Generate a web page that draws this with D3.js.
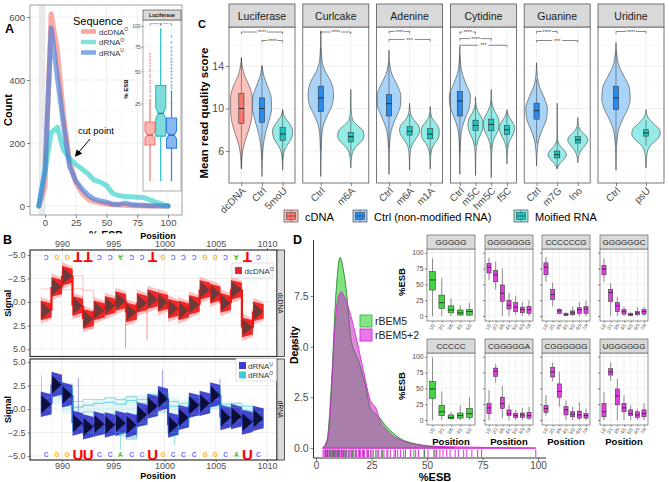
<!DOCTYPE html>
<html>
<head>
<meta charset="utf-8">
<script src="https://cdn.jsdelivr.net/npm/d3@7/dist/d3.min.js"></script>
<style>
html,body{margin:0;padding:0;background:#fff;}
svg{display:block;}
text{font-family:"Liberation Sans",Arial,Helvetica,sans-serif;}
</style>
</head>
<body>
<svg id="fig" width="669" height="482" xmlns="http://www.w3.org/2000/svg"></svg>
<script>
// ================= DATA =================
// ---- Panel A: %ESB distribution ----
const esbBins    = [-5,0,5,10,15,20,25,30,35,40,45,50,55,60,65,70,75,80,85,90,95,100];
const countDcDNA = [0,60,610,495,290,140,75,42,22,14,10,6,4,3,2,1,1,0,0,0,0,0];
const countDrnaO = [0,110,232,250,178,150,132,118,102,82,76,65,40,33,30,29,28,27,20,12,6,0];
const countDrnaU = [0,115,565,410,260,125,80,55,35,22,16,12,6,5,9,5,3,2,1,1,0,0];
const seqLegend  = ["dcDNA","dRNA","dRNA"];
const seqSup     = ["O","O","U"];
const aXTicks = [0,25,50,75,100];
const aYTicks = [0,200,400,600];
// inset (Luciferase, %ESB, sqrt scale)
const insetGroups  = ["dcDNA","dRNAO","dRNAU"];
const insetWhiskLo = [0,0,0];
const insetQ1      = [5.4,8.4,4.5];
const insetMed     = [8.8,19,8.8];
const insetQ3      = [14.5,38,16.5];
const insetWhiskHi = [28,97,34];
const insetNotchLo = [7.6,16,7.4];
const insetNotchHi = [10.2,22.5,10.3];
const insetOutDcDNA = [30,33,35,37,40,42,45,47,50,52,55,58,61,64,67];
const insetOutDrnaU = [36,38,41,44,47,50,53,56,59,62,66,70,74,80,87];
const insetTicks = [25,50,75,100];

// ---- Panel B: squiggle signal ----
const bPos = [988.45,989.5,990.5,991.55,992.55,993.65,994.7,995.7,996.8,997.8,998.85,999.85,1000.85,1001.85,1002.9,1003.95,1004.95,1005.95,1007.0,1008.1,1009.15];
const dnaSeq = ["C","G","G","T","T","C","C","A","C","C","T","G","C","C","C","G","G","C","A","T","C"];
const rnaSeq = ["C","G","G","U","U","C","C","A","C","C","U","G","C","C","C","G","G","C","A","U","C"];
const dcdnaLevel  = [0.9,-1.6,-2.8,0.4,1.8,0.9,0.4,-0.1,1.1,0.1,-0.3,0.0,0.7,0.9,0.3,-1.3,-0.9,0.1,-1.3,2.7,1.0];
const dcdnaTrace1 = [-1.4,-1.3,-1.3,-1.4,-1.2,0.6,0.3,-0.2,1.0,0.2,-0.5,0.1,0.8,0.8,0.2,-1.4,-0.8,0.1,-1.2,2.5,1.2];
const dcdnaTrace2 = [1.2,-1.2,-3.3,-2.8,2.2,1.2,0.6,0.0,1.3,0.3,-0.2,0.2,0.5,1.0,0.4,-1.2,-1.0,0.2,-1.4,2.9,0.9];
const dcdnaTrace3 = [0.6,-1.9,-2.5,1.5,2.8,1.5,0.9,0.3,0.9,-0.1,-0.6,-0.3,1.0,0.6,0.5,-1.6,-0.6,-0.1,-1.6,2.2,1.3];
const dcdnaTrace4 = [1.5,-2.2,-3.4,0.9,1.2,0.4,0.0,-0.6,1.6,0.6,0.2,0.5,0.3,1.4,0.8,-0.8,-1.4,0.6,-0.9,3.1,0.6];
const dcdnaSpikePos = [996.2,998.3];
const dcdnaSpikeEnd = [4.9,4.0];
const drnaULevel  = [0.5,2.6,1.5,-1.5,-1.9,-1.6,-1.7,-1.5,-1.7,-0.6,0.3,1.1,-1.7,-0.9,0.4,0.6,1.5,-0.9,-0.8,-1.4,-1.0];
const drnaOLow    = [-0.8,0.5,-0.5,-2.5,-3.0,-2.8,-2.8,-3.0,-3.3,-1.8,-0.8,-0.5,-2.8,-2.0,-0.8,-0.5,0.0,-1.8,-1.8,-2.0,-1.8];
const drnaOHigh   = [1.8,3.3,2.8,0.5,0.8,1.0,1.2,1.2,1.5,1.5,1.8,2.0,1.2,1.0,1.5,1.5,2.2,0.8,0.8,0.5,0.2];
const drnaOTrace1 = [0.5,2.5,1.5,0.8,1.0,1.0,1.2,1.0,1.3,1.0,1.2,1.5,0.8,0.6,1.0,1.0,1.8,0.5,0.6,0.3,0.0];
const drnaOTrace2 = [0.0,2.0,1.0,-2.0,-2.5,-2.3,-2.2,-2.5,-3.0,-1.5,-0.5,0.5,-2.5,-1.6,-0.5,0.0,1.0,-1.5,-1.2,-1.8,-1.5];
const drnaOTrace3 = [0.8,2.8,1.8,-0.5,-0.3,-0.5,-0.5,-0.8,-2.0,-0.3,0.5,1.0,-1.5,-0.5,0.5,0.8,1.2,-0.5,-0.5,-1.0,-0.8];
const drnaOTrace4 = [0.2,2.3,1.2,-1.0,-1.5,-1.3,-1.2,-1.8,-2.6,-1.0,0.0,0.2,-2.0,-1.2,0.0,0.3,0.8,-1.0,-0.9,-1.3,-1.2];
const drnaOTrace5 = [1.2,3.0,2.2,0.2,0.4,0.6,0.7,0.5,0.9,0.6,1.5,1.7,0.3,0.2,1.3,1.2,2.0,0.2,0.2,-0.2,-0.4];
const drnaOTrace6 = [-0.4,1.4,0.3,-2.3,-2.8,-2.6,-2.5,-2.8,-3.2,-1.7,-0.7,-0.3,-2.7,-1.9,-0.7,-0.4,0.3,-1.7,-1.6,-1.9,-1.7];
const drnaSpikePos = [988.0,991.6,995.7,999.8,1001.0,1005.4];
const drnaSpikeEnd = [3.6,3.3,-4.3,4.2,-3.8,3.2];
const bTicks = [990,995,1000,1005,1010];
const signalTicks = [-5,-2.5,0,2.5,5];

// ---- Panel C: mean read quality ----
const cFacets = ["Luciferase","Curlcake","Adenine","Cytidine","Guanine","Uridine"];
const cCats  = [["dcDNA","Ctrl","5moU"],["Ctrl","m6A"],["Ctrl","m6A","m1A"],["Ctrl","m5C","hm5C","f5C"],["Ctrl","m7G","Ino"],["Ctrl","psU"]];
const cTypes = [["cDNA","Ctrl","Mod"],["Ctrl","Mod"],["Ctrl","Mod","Mod"],["Ctrl","Mod","Mod","Mod"],["Ctrl","Mod","Mod"],["Ctrl","Mod"]];
const cMed = [[10.0,10.0,7.6],[11.0,7.35],[10.45,7.85,7.6],[10.7,8.4,8.5,8.0],[9.8,5.65,7.05],[11.0,7.7]];
const cQ1  = [[8.6,8.7,7.0],[9.7,6.85],[9.3,7.5,7.15],[9.3,7.95,7.9,7.55],[9.0,5.35,6.75],[9.9,7.4]];
const cQ3  = [[11.4,11.0,8.2],[12.1,7.75],[11.3,8.3,8.1],[11.6,8.9,9.0,8.4],[10.5,6.0,7.35],[12.1,8.0]];
const cYTicks = [6,10,14];
// violin outlines: [score, relative half-width]
const violinLuciferase = [
  [[14.8,0],[14,0.08],[13,0.35],[12,0.82],[11,1.05],[10,1.05],[9,0.98],[8,0.72],[7,0.38],[6,0.13],[5,0.04],[4.3,0]],
  [[14.05,0],[13,0.2],[12,0.58],[11,0.9],[10,0.93],[9,0.72],[8,0.42],[7,0.2],[6,0.08],[5,0.03],[3.6,0]],
  [[9.9,0],[9.2,0.2],[8.6,0.65],[7.9,0.98],[7.3,0.9],[6.7,0.55],[6.1,0.2],[5.5,0.07],[4.8,0.02],[4.2,0]]];
const violinCurlcake = [
  [[17.3,0],[16,0.02],[14.5,0.08],[13.5,0.3],[12.5,0.68],[11.3,0.85],[10.3,0.75],[9.3,0.42],[8.3,0.15],[7,0.05],[5.5,0.02],[3.6,0]],
  [[11.8,0],[10,0.02],[9,0.1],[8.4,0.45],[7.9,0.82],[7.4,0.88],[6.9,0.7],[6.4,0.35],[5.8,0.1],[5.1,0.03],[4.4,0]]];
const violinAdenine = [
  [[15.5,0],[14.3,0.06],[13.2,0.3],[12.2,0.8],[11.2,1.15],[10.2,1.1],[9.2,0.7],[8.2,0.3],[7,0.09],[5.5,0.03],[3.8,0]],
  [[10.5,0],[9.6,0.08],[9,0.35],[8.5,0.8],[8,0.98],[7.5,0.85],[7,0.5],[6.5,0.2],[5.9,0.07],[5,0.02],[4.2,0]],
  [[10.2,0],[9.3,0.1],[8.8,0.4],[8.2,0.82],[7.7,0.88],[7.2,0.78],[6.7,0.42],[6.2,0.16],[5.5,0.05],[4.3,0]]];
const violinCytidine = [
  [[15.8,0],[14.5,0.06],[13.3,0.3],[12.2,0.85],[11.2,1.35],[10.2,1.25],[9.2,0.75],[8.2,0.3],[7,0.09],[5.5,0.03],[3.8,0]],
  [[11.1,0],[10.2,0.1],[9.6,0.4],[9.0,0.85],[8.4,0.97],[7.8,0.8],[7.2,0.42],[6.5,0.15],[5.5,0.04],[3.7,0]],
  [[11.8,0],[10.6,0.08],[9.8,0.4],[9.1,0.88],[8.5,1.0],[7.9,0.85],[7.3,0.45],[6.6,0.15],[5.5,0.04],[3.5,0]],
  [[9.9,0],[9.3,0.2],[8.8,0.65],[8.2,0.97],[7.7,0.85],[7.1,0.45],[6.5,0.15],[5.8,0.05],[4.8,0]]];
const violinGuanine = [
  [[14.3,0],[13,0.08],[12,0.3],[11,0.75],[10,1.05],[9,0.95],[8,0.55],[7,0.2],[6,0.06],[4.6,0]],
  [[10.5,0],[8.5,0.01],[7.2,0.03],[6.6,0.2],[6.1,0.65],[5.65,0.9],[5.2,0.65],[4.8,0.25],[4.3,0]],
  [[9.15,0],[8.3,0.08],[7.8,0.4],[7.35,0.85],[7.0,0.98],[6.6,0.75],[6.1,0.35],[5.6,0.1],[4.9,0]]];
const violinUridine = [
  [[16.2,0],[15,0.06],[14,0.2],[13,0.55],[12,0.88],[11,0.95],[10,0.8],[9,0.45],[8,0.18],[7,0.07],[5.5,0.02],[4.2,0]],
  [[9.9,0],[9.2,0.12],[8.6,0.5],[8.0,0.9],[7.6,0.95],[7.1,0.75],[6.6,0.35],[6.0,0.1],[5.2,0.03],[4.4,0]]];
// significance brackets: [fromIndex, toIndex, score level, label]
const sigLuciferase = [[0,2,17.2,"****"],[1,2,16.4,"****"]];
const sigCurlcake   = [[0,1,17.2,"****"]];
const sigAdenine    = [[0,1,17.25,"****"],[0,2,16.5,"***"]];
const sigCytidine   = [[0,1,17.2,"****"],[0,2,16.58,"****"],[0,3,15.95,"***"]];
const sigGuanine    = [[0,1,17.25,"****"],[0,2,16.4,"***"]];
const sigUridine    = [[0,1,17.25,"****"]];
const cLegend = ["cDNA","Ctrl (non-modified RNA)","Moified RNA"];

// ---- Panel D: density + boxplots ----
const densRBEM5   = [[3,0],[5,0.4],[7,3.2],[9,7.6],[10.8,9.4],[12.3,8.8],[13.6,7.8],[15.7,5.4],[17.5,4.7],[19.2,4.3],[20.7,3.7],[22.5,3.0],[24.3,2.0],[26.5,1.7],[28.5,1.5],[31.7,1.05],[35,0.7],[39,0.4],[43,0.25],[48,0.12],[53,0.06],[58,0.02],[62,0]];
const densRBEM5p2 = [[3,0],[5.2,0.4],[6.8,2.5],[8.1,5.3],[9.8,7.3],[11.4,7.7],[13,7.4],[15.5,6.6],[18.4,5.3],[21.4,3.8],[24.3,2.4],[27.3,1.9],[29,1.3],[31,1.0],[34.5,0.6],[38,0.4],[42,0.25],[46,0.17],[51,0.1],[60,0.06],[70,0.04],[80,0.02],[90,0.01],[99,0]];
const rugRBEM5p2 = [3.2,3.7,4.1,4.8,5.2,5.5,6.3,6.9,7.4,7.9,8.2,8.8,9.3,9.9,10.3,10.6,11.2,11.9,12.4,13.1,13.8,14.5,15.3,15.8,16.1,16.8,17.6,18.3,19.2,20.1,21.0,21.8,22.9,23.7,24.6,25.8,26.9,28.1,29.4,30.6,31.9,33.5,35.2,36.8,38.1,40.3,42.6,44.9,46.2,48.7,50.4,53.1,54.3,55.8,57.2,58.9,60.4,62.7,64.1,66.5,67.9,70.2,72.8,74.6,99.0];
const rugRBEM5   = [4.3,5.1,6.0,6.6,7.7,8.5,9.6,10.3,11.5,12.7,13.5,14.9,16.4,17.9,19.6,21.4,23.3,25.2,27.5,29.9,32.4,35.8,39.5,44.1,48.9,53.6];
const dGroups = ["rBEM5","rBEM5+2"];
const dXTicks = [0,25,50,75,100];
const dYTicks = [0,2.5,5,7.5];
const smTitles = ["GGGGG","GGGGGGG","CCCCCCG","GGGGGGC","CCCCC","CGGGGGA","CGGGGGG","UGGGGGG"];
const smGroup  = ["rBEM5","rBEM5+2","rBEM5+2","rBEM5+2","rBEM5","rBEM5+2","rBEM5+2","rBEM5+2"];
const smLabels = ["1/2","2/1","3/5","4/1","5/2","6/3","7/4"];
const smMed = [[57,21,9.5,5,7],[77,65,36,17,14,10,10],[77,34,8,2,5,10,11],[74,37,16,7,2,5,7],[49,13,4,7,10],[19,77,26,10,7,8,7],[18,76,45,16,9,8,7],[13,76,38,19,10,8,10]];
const smQ1  = [[41,12,5,1.6,1.5],[68,54,23,11,7,5,4],[65,26,4,1,2,4,4],[65,23,7,3,1,2,3],[34,7,2,3,4],[10,69,18,7,4,4,3],[12,68,36,8,5,3,3],[5,71,24,13,7,4,5]];
const smQ3  = [[70,33,16,9.5,10],[83,72,49,25,21,14,15],[84,42,10.5,4,8,13,15],[80,42,21,10,4,7,10],[61,23,8,11,18],[26,82,36,16,10,11,12],[23,83,57,21,13,14,10],[26,81,49,26,16,13,16]];
const smLo  = [[0,0,0,0,0],[57,42,0,0,2,0,0],[54,15,3,0,0,0,0],[54,0,0,0,0,0,0],[0,0,0,0,0],[0,59,3,0,0,0,0],[7,61,21,0,0,0,0],[0,62,0,0,0,0,0]];
const smHi  = [[91,60,28,17,21],[92,86,75,36,32,22,25],[93,53,12,6,15,22,24],[91,52,30,15,6,14,15],[99,45,13,23,36],[47,88,54,24,16,19,21],[39,91,76,31,21,28,18],[44,91,65,39,23,18,26]];
const smYTicks = [0,25,50,75,100];

// ================= DRAW =================
const svg = d3.select("#fig");
svg.append("rect").attr("width",669).attr("height",482).attr("fill","#fff");
const TXT = "#4D4D4D";
const FONT = "'Liberation Sans', Arial, Helvetica, sans-serif";
const defs = svg.append("defs");
defs.append("marker").attr("id","arrowA").attr("viewBox","0 0 8 8").attr("refX",7).attr("refY",4)
  .attr("markerWidth",7).attr("markerHeight",7).attr("markerUnits","userSpaceOnUse").attr("orient","auto")
  .append("path").attr("d","M0,0 L8,4 L0,8 Z").attr("fill","#000");

function T(g,x,y,s,size,o={}){
  const t=g.append("text").attr("x",x).attr("y",y).attr("font-size",size)
    .attr("fill",o.fill||"#000").attr("text-anchor",o.anchor||"start").text(s);
  if(o.bold) t.attr("font-weight","bold");
  if(o.rot!=null) t.attr("transform",`rotate(${o.rot},${x},${y})`);
  if(o.mid) t.attr("dominant-baseline","central");
  return t;
}
function styleAxis(a,size,keepDomain){
  a.attr("font-family",FONT).attr("font-size",size);
  if(!keepDomain) a.select(".domain").remove();
  else a.select(".domain").attr("stroke","#000").attr("stroke-width",0.8);
  a.selectAll(".tick line").attr("stroke","#333").attr("stroke-width",0.6);
  a.selectAll(".tick text").attr("fill",TXT);
}
function hl(g,x1,x2,y,c,w){g.append("line").attr("x1",x1).attr("x2",x2).attr("y1",y).attr("y2",y).attr("stroke",c).attr("stroke-width",w);}
function vl(g,x,y1,y2,c,w){g.append("line").attr("x1",x).attr("x2",x).attr("y1",y1).attr("y2",y2).attr("stroke",c).attr("stroke-width",w);}

// ---------------- PANEL A ----------------
{
  const g = svg.append("g");
  const L=30,R=182,TP=5,B=215;
  const x = d3.scaleLinear().domain([0,100]).range([45,168]);
  const y = d3.scaleLinear().domain([0,600]).range([206,17]);
  g.append("rect").attr("x",L).attr("y",TP).attr("width",R-L).attr("height",B-TP).attr("fill","#fff");
  [12.5,37.5,62.5,87.5].forEach(v=>vl(g,x(v),TP,B,"#F4F4F4",0.5));
  [100,300,500].forEach(v=>hl(g,L,R,y(v),"#F4F4F4",0.5));
  aXTicks.forEach(v=>vl(g,x(v),TP,B,"#EBEBEB",0.8));
  aYTicks.forEach(v=>hl(g,L,R,y(v),"#EBEBEB",0.8));
  g.append("rect").attr("x",x(-5)).attr("y",TP).attr("width",x(0)-x(-5)).attr("height",B-TP).attr("fill","#E4E4E4").attr("opacity",0.8);
  const line = d3.line().x((d,i)=>x(esbBins[i])).y(d=>y(d));
  const aCols = ["#F8766D","#3ED3CB","#3A7BDC"];
  [countDcDNA,countDrnaO,countDrnaU].forEach((arr,k)=>{
    g.append("path").attr("d",line(arr)).attr("fill","none").attr("stroke",aCols[k])
      .attr("stroke-width",5).attr("stroke-opacity",k===1?0.7:0.62).attr("stroke-linejoin","round").attr("stroke-linecap","round");
  });
  g.append("rect").attr("x",L).attr("y",TP).attr("width",R-L).attr("height",B-TP).attr("fill","none").attr("stroke","#8A8A8A").attr("stroke-width",0.8);
  const ax = g.append("g").attr("transform",`translate(0,${B})`).call(d3.axisBottom(x).tickValues(aXTicks).tickSize(3).tickPadding(1));
  styleAxis(ax,9.5);
  const ay = g.append("g").attr("transform",`translate(${L},0)`).call(d3.axisLeft(y).tickValues(aYTicks).tickSize(3).tickPadding(2));
  styleAxis(ay,9.5);
  T(g,12,110,"Count",11,{bold:true,anchor:"middle",rot:-90});
  svg.append("clipPath").attr("id","clipAT").append("rect").attr("x",0).attr("y",0).attr("width",300).attr("height",233.5);
  T(g,106,238.5,"% ESB",10.5,{bold:true,anchor:"middle"}).attr("clip-path","url(#clipAT)");
  T(g,5,33,"A",12.5,{bold:true});
  // legend
  T(g,73,25,"Sequence",11);
  seqLegend.forEach((s,k)=>{
    const yy = 31.5+k*10.5;
    g.append("line").attr("x1",81).attr("x2",96).attr("y1",yy).attr("y2",yy).attr("stroke",aCols[k]).attr("stroke-width",4.5).attr("stroke-opacity",0.65);
    const t = T(g,99,yy+3,s,8,{fill:"#333"});
    t.append("tspan").attr("dy",-3.2).attr("font-size",5).text(seqSup[k]);
  });
  T(g,78,134,"cut point",9.5);
  g.append("line").attr("x1",90).attr("y1",139).attr("x2",75.5).attr("y2",156).attr("stroke","#000").attr("stroke-width",1).attr("marker-end","url(#arrowA)");

  // inset
  const iL=143,iR=181,iT=20,iB=191;
  const iy = d3.scaleSqrt().domain([0,100]).range([181,26]);
  const ix = d3.scalePoint().domain(insetGroups).range([150,171.5]);
  g.append("rect").attr("x",iL).attr("y",iT).attr("width",iR-iL).attr("height",iB-iT).attr("fill","#fff");
  [0].concat(insetTicks).forEach(v=>hl(g,iL,iR,iy(v),"#EEEEEE",0.6));
  insetGroups.forEach(k=>vl(g,ix(k),iT,iB,"#F0F0F0",0.6));
  const iCols = ["#F8766D","#1DBFC0","#2E7FE6"];
  insetGroups.forEach((k,j)=>{
    const cx = ix(k), w=5, c=iCols[j];
    vl(g,cx,iy(insetWhiskLo[j]),iy(insetQ1[j]),c,1.2);
    vl(g,cx,iy(insetQ3[j]),iy(insetWhiskHi[j]),c,1.2);
    const pts = [[cx-w,insetQ3[j]],[cx+w,insetQ3[j]],[cx+w,insetNotchHi[j]],[cx+w*0.5,insetMed[j]],[cx+w,insetNotchLo[j]],[cx+w,insetQ1[j]],
                 [cx-w,insetQ1[j]],[cx-w,insetNotchLo[j]],[cx-w*0.5,insetMed[j]],[cx-w,insetNotchHi[j]]];
    g.append("polygon").attr("points",pts.map(p=>[p[0],iy(p[1])].join(",")).join(" "))
      .attr("fill",c).attr("fill-opacity",0.55).attr("stroke",c).attr("stroke-width",1.1);
    hl(g,cx-w*0.5,cx+w*0.5,iy(insetMed[j]),d3.color(c).darker(0.8),1.4);
  });
  insetOutDcDNA.forEach(v=>g.append("circle").attr("cx",ix("dcDNA")).attr("cy",iy(v)).attr("r",1.1).attr("fill",iCols[0]).attr("opacity",0.55));
  insetOutDrnaU.forEach(v=>g.append("circle").attr("cx",ix("dRNAU")).attr("cy",iy(v)).attr("r",1.1).attr("fill",iCols[2]).attr("opacity",0.55));
  const sy = 23.8;
  [[0,1,"****"],[1,2,"***"]].forEach(([a,b,l])=>{
    const x1=ix(insetGroups[a]), x2=ix(insetGroups[b]);
    hl(g,x1,x2,sy,"#444",0.5); vl(g,x1,sy,sy+1.5,"#444",0.5); vl(g,x2,sy,sy+1.5,"#444",0.5);
    g.append("rect").attr("x",(x1+x2)/2-3.5).attr("y",sy-1.5).attr("width",7).attr("height",3).attr("fill","#fff");
    T(g,(x1+x2)/2,sy+1.8,l,4,{anchor:"middle",fill:"#333"});
  });
  g.append("rect").attr("x",iL).attr("y",iT).attr("width",iR-iL).attr("height",iB-iT).attr("fill","none").attr("stroke","#8A8A8A").attr("stroke-width",0.7);
  g.append("rect").attr("x",iL).attr("y",10).attr("width",iR-iL).attr("height",iT-10).attr("fill","#D9D9D9").attr("stroke","#333").attr("stroke-width",0.6);
  T(g,(iL+iR)/2,17.3,"Luciferase",5.2,{anchor:"middle",bold:true,fill:"#1A1A1A"});
  const iay = g.append("g").attr("transform",`translate(${iL},0)`).call(d3.axisLeft(iy).tickValues(insetTicks).tickSize(1.5).tickPadding(1));
  styleAxis(iay,5);
  T(g,128,89,"% ESB",6,{bold:true,anchor:"middle",rot:-90});
}

// ---------------- PANEL B ----------------
{
  const g = svg.append("g");
  const L=30,R=277;
  const x = d3.scaleLinear().domain([990,1010]).range([62,267]);
  const panels = [
    {t:250,b:356.5,y:d3.scaleLinear().domain([-5,5]).range([255,349]),name:"dcDNA"},
    {t:359,b:460,y:d3.scaleLinear().domain([-5,5]).range([456,362]),name:"dRNA"}];
  const edges = bPos.map((p,i)=>[
    i===0 ? p-(bPos[1]-p)/2 : (bPos[i-1]+p)/2,
    i===bPos.length-1 ? p+(p-bPos[i-1])/2 : (p+bPos[i+1])/2]);
  const stepPts = vals => { const pts=[]; vals.forEach((v,i)=>{pts.push([edges[i][0],v]);pts.push([edges[i][1],v]);}); return pts; };
  // sloped band per segment: wider on the left, narrower on the right
  const band = (pg,yS,i,lvl,hL,hR,fill,op)=>{
    const pts=[[edges[i][0],lvl-hL],[edges[i][1],lvl-hR],[edges[i][1],lvl+hR],[edges[i][0],lvl+hL]];
    pg.append("polygon").attr("points",pts.map(p=>[x(p[0]),yS(p[1])].join(",")).join(" ")).attr("fill",fill).attr("opacity",op);
  };
  const bandRect = (pg,yS,i,lo,hi,fill,op)=>{
    const a=yS(lo), b=yS(hi);
    pg.append("rect").attr("x",x(edges[i][0])).attr("width",x(edges[i][1])-x(edges[i][0]))
      .attr("y",Math.min(a,b)).attr("height",Math.abs(a-b)).attr("fill",fill).attr("opacity",op);
  };
  const tri = (pg,yS,i,lvl,h,fill,op)=>{
    const pts=[[edges[i][0]+0.06,lvl-h],[edges[i][0]+0.06,lvl+h],[edges[i][1]-0.04,lvl]];
    pg.append("polygon").attr("points",pts.map(p=>[x(p[0]),yS(p[1])].join(",")).join(" ")).attr("fill",fill).attr("opacity",op);
  };
  const baseCol = {C:"#6C6CFF",G:"#FFB31A",A:"#33C433",T:"#FF0000",U:"#FF0000"};
  panels.forEach((P,k)=>{
    const yS = P.y;
    const cid = "clipB"+k;
    svg.append("clipPath").attr("id",cid).append("rect").attr("x",L).attr("y",P.t).attr("width",R-L).attr("height",P.b-P.t);
    g.append("rect").attr("x",L).attr("y",P.t).attr("width",R-L).attr("height",P.b-P.t).attr("fill","#fff");
    d3.range(987,1012).forEach(v=>vl(g,x(v),P.t,P.b,"#F3F3F3",0.5));
    bTicks.forEach(v=>vl(g,x(v),P.t,P.b,"#EBEBEB",0.8));
    [-3.75,-1.25,1.25,3.75].forEach(v=>hl(g,L,R,yS(v),"#F4F4F4",0.5));
    signalTicks.forEach(v=>hl(g,L,R,yS(v),"#EBEBEB",0.8));
    const pg = g.append("g").attr("clip-path",`url(#${cid})`);
    const sl = d3.line().x(d=>x(d[0])).y(d=>yS(d[1]));
    if(k===0){
      [dcdnaTrace1,dcdnaTrace2,dcdnaTrace3,dcdnaTrace4].forEach(tr=>pg.append("path").attr("d",sl(stepPts(tr))).attr("fill","none").attr("stroke","#FF2A2A").attr("stroke-width",0.6).attr("opacity",0.45));
      dcdnaSpikePos.forEach((p,i)=>{
        const j = d3.bisectLeft(bPos,p)-1;
        vl(pg,x(p),yS(dcdnaLevel[Math.max(0,j)]),yS(dcdnaSpikeEnd[i]),"#FF5A5A",0.7);
      });
      dcdnaLevel.forEach((v,i)=>band(pg,yS,i,v,1.45,1.0,"#FF3030",0.28));
      dcdnaLevel.forEach((v,i)=>band(pg,yS,i,v,1.05,0.75,"#F01515",0.9));
      dcdnaLevel.forEach((v,i)=>{ if(i<dcdnaLevel.length-1) vl(pg,x(edges[i][1]),yS(v),yS(dcdnaLevel[i+1]),"#F01515",2.2); });
      dcdnaLevel.forEach((v,i)=>tri(pg,yS,i,v,0.9,"#404040",0.75));
      dnaSeq.forEach((b,i)=>{
        const big = b==="T";
        const cx=x(bPos[i]), cy=yS(-5)+2.3;
        T(g,cx,cy,b,big?15:6.5,{anchor:"middle",mid:true,bold:true,fill:baseCol[b]}).attr("transform",`rotate(180,${cx},${cy})`);
      });
    } else {
      drnaULevel.forEach((v,i)=>bandRect(pg,yS,i,drnaOLow[i],drnaOHigh[i],"#3CC6CF",0.14));
      [drnaOTrace1,drnaOTrace2,drnaOTrace3,drnaOTrace4,drnaOTrace5,drnaOTrace6].forEach(tr=>pg.append("path").attr("d",sl(stepPts(tr))).attr("fill","none").attr("stroke","#2EC3CC").attr("stroke-width",0.7).attr("opacity",0.75));
      drnaSpikePos.forEach((p,i)=>{
        const j = d3.bisectLeft(bPos,p)-1;
        vl(pg,x(p),yS(drnaULevel[Math.max(0,j)]),yS(drnaSpikeEnd[i]),i%2?"#7B7BE0":"#5ED3DA",0.7);
      });
      drnaULevel.forEach((v,i)=>band(pg,yS,i,v,1.35,1.05,"#2F2FC8",0.88));
      drnaULevel.forEach((v,i)=>{ if(i<drnaULevel.length-1) vl(pg,x(edges[i][1]),yS(v),yS(drnaULevel[i+1]),"#2F2FC8",2.0); });
      [drnaOTrace2,drnaOTrace5].forEach(tr=>pg.append("path").attr("d",sl(stepPts(tr))).attr("fill","none").attr("stroke","#38CCD4").attr("stroke-width",0.6).attr("opacity",0.5));
      drnaULevel.forEach((v,i)=>tri(pg,yS,i,v,0.95,"#08082A",0.9));
      rnaSeq.forEach((b,i)=>{
        const big = b==="U";
        T(g,x(bPos[i]),yS(-5)-2,b,big?15:6.5,{anchor:"middle",mid:true,bold:true,fill:baseCol[b]});
      });
    }
    g.append("rect").attr("x",L).attr("y",P.t).attr("width",R-L).attr("height",P.b-P.t).attr("fill","none").attr("stroke","#333").attr("stroke-width",1.2);
    g.append("rect").attr("x",R).attr("y",P.t).attr("width",7.5).attr("height",P.b-P.t).attr("fill","#D9D9D9").attr("stroke","#333").attr("stroke-width",0.8);
    T(g,R+3.75,(P.t+P.b)/2,P.name,6.5,{anchor:"middle",mid:true,rot:90,fill:"#1A1A1A"});
    const ay = g.append("g").attr("transform",`translate(${L},0)`).call(d3.axisLeft(yS).tickValues(signalTicks).tickFormat(d3.format(".1f")).tickSize(2.5).tickPadding(2));
    styleAxis(ay,9);
    T(g,11,(P.t+P.b)/2,"Signal",9,{bold:true,anchor:"middle",rot:-90});
  });
  // legends
  const lg1 = g.append("g");
  lg1.append("rect").attr("x",232).attr("y",263).attr("width",41).attr("height",15).attr("fill","#fff").attr("stroke","#CCCCCC").attr("stroke-width",0.6);
  lg1.append("rect").attr("x",235).attr("y",267).attr("width",7).attr("height",7).attr("fill","#E8213A").attr("stroke","#999").attr("stroke-width",0.3);
  const t1 = T(lg1,244.5,273.5,"dcDNA",8,{fill:"#333"}); t1.append("tspan").attr("dy",-3).attr("font-size",5).text("O");
  const lg2 = g.append("g");
  lg2.append("rect").attr("x",236).attr("y",358.5).attr("width",40.5).attr("height",22.5).attr("fill","#fff").attr("stroke","#CCCCCC").attr("stroke-width",0.6);
  lg2.append("rect").attr("x",239).attr("y",362).attr("width",7).attr("height",7).attr("fill","#3B3BD8");
  lg2.append("rect").attr("x",239).attr("y",371.5).attr("width",7).attr("height",7).attr("fill","#3FC9D2");
  const t2 = T(lg2,248,368.5,"dRNA",8,{fill:"#333"}); t2.append("tspan").attr("dy",-3).attr("font-size",5).text("U");
  const t3 = T(lg2,248,378,"dRNA",8,{fill:"#333"}); t3.append("tspan").attr("dy",-3).attr("font-size",5).text("O");
  const axT = g.append("g").attr("transform","translate(0,250)").call(d3.axisTop(x).tickValues(bTicks).tickFormat(d3.format("d")).tickSize(2).tickPadding(1));
  styleAxis(axT,9);
  const axB = g.append("g").attr("transform","translate(0,460)").call(d3.axisBottom(x).tickValues(bTicks).tickFormat(d3.format("d")).tickSize(2).tickPadding(1));
  styleAxis(axB,9);
  T(g,158,238.5,"Position",9,{bold:true,anchor:"middle"});
  T(g,158,478.5,"Position",9,{bold:true,anchor:"middle"});
  T(g,3,244,"B",12.5,{bold:true});
}

// ---------------- PANEL C ----------------
{
  const g = svg.append("g");
  const top=27,bot=183,stripT=4;
  const y = d3.scaleLinear().domain([6,14]).range([151,66]);
  const cFill = {cDNA:"#FBC2BD",Ctrl:"#AAD3F8",Mod:"#95ECE7"};
  const cBox  = {cDNA:"#F8766D",Ctrl:"#2A8BEA",Mod:"#20C4BE"};
  const violins = [violinLuciferase,violinCurlcake,violinAdenine,violinCytidine,violinGuanine,violinUridine];
  const sigs = [sigLuciferase,sigCurlcake,sigAdenine,sigCytidine,sigGuanine,sigUridine];
  cFacets.forEach((f,i)=>{
    const x0 = 229+i*73.8, w=66;
    const n = cCats[i].length;
    const x = d3.scaleLinear().domain([0.4,n+0.6]).range([x0,x0+w]);
    const band = w/(n+0.2);
    g.append("rect").attr("x",x0).attr("y",top).attr("width",w).attr("height",bot-top).attr("fill","#fff");
    [4,8,12,16].forEach(v=>hl(g,x0,x0+w,y(v),"#F3F3F3",0.5));
    cYTicks.forEach(v=>hl(g,x0,x0+w,y(v),"#EBEBEB",0.8));
    d3.range(1,n+1).forEach(v=>vl(g,x(v),top,bot,"#EBEBEB",0.8));
    violins[i].forEach((prof,j)=>{
      const cx = x(j+1), type = cTypes[i][j];
      const area = d3.area().curve(d3.curveMonotoneY).y(d=>y(d[0])).x0(d=>cx-d[1]*band/2).x1(d=>cx+d[1]*band/2);
      g.append("path").attr("d",area(prof)).attr("fill",cFill[type]).attr("stroke","#333").attr("stroke-width",0.55);
      const q1=cQ1[i][j], q3=cQ3[i][j], md=cMed[i][j], iqr=q3-q1;
      const lo=Math.max(prof[prof.length-1][0],q1-1.5*iqr), hi=Math.min(prof[0][0],q3+1.5*iqr);
      vl(g,cx,y(hi),y(q3),"#333",0.5); vl(g,cx,y(q1),y(lo),"#333",0.5);
      g.append("rect").attr("x",cx-2.6).attr("width",5.2).attr("y",y(q3)).attr("height",y(q1)-y(q3)).attr("fill",cBox[type]).attr("stroke","#333").attr("stroke-width",0.55);
      hl(g,cx-2.6,cx+2.6,y(md),"#222",0.9);
    });
    sigs[i].forEach(([a,b,lvl,lab])=>{
      const x1=x(a+1), x2=x(b+1), yy=y(lvl);
      hl(g,x1,x2,yy,"#555",0.7); vl(g,x1,yy,yy+2,"#555",0.7); vl(g,x2,yy,yy+2,"#555",0.7);
      g.append("rect").attr("x",(x1+x2)/2-5).attr("y",yy-2).attr("width",10).attr("height",4).attr("fill","#fff");
      T(g,(x1+x2)/2,yy+2.2,lab,5.5,{anchor:"middle",fill:"#444"});
    });
    g.append("rect").attr("x",x0).attr("y",top).attr("width",w).attr("height",bot-top).attr("fill","none").attr("stroke","#555").attr("stroke-width",0.8);
    g.append("rect").attr("x",x0).attr("y",stripT).attr("width",w).attr("height",top-stripT).attr("fill","#D9D9D9").attr("stroke","#555").attr("stroke-width",0.8);
    T(g,x0+w/2,stripT+16,f,10.5,{anchor:"middle",fill:"#1A1A1A"});
    const axb = g.append("g").attr("transform",`translate(0,${bot})`).call(d3.axisBottom(x).tickValues(d3.range(1,n+1)).tickFormat("").tickSize(3));
    styleAxis(axb,9);
    cCats[i].forEach((c,j)=>{
      const xx=x(j+1)+2.5, yy=bot+6;
      T(g,xx,yy,c,10,{anchor:"end",fill:TXT}).attr("transform",`rotate(-45,${xx},${yy})`).attr("dy","0.35em");
    });
    if(i===0){
      const ay = g.append("g").attr("transform",`translate(${x0},0)`).call(d3.axisLeft(y).tickValues(cYTicks).tickSize(3).tickPadding(2));
      styleAxis(ay,10.5);
    }
  });
  T(g,208,113,"Mean  read quality score",11.5,{bold:true,anchor:"middle",rot:-90});
  T(g,198,28,"C",11,{bold:true});
  const keyX = [284,353,514], txtX=[305,374,535], types=["cDNA","Ctrl","Mod"];
  cLegend.forEach((s,k)=>{
    const kx=keyX[k], ky=210;
    g.append("rect").attr("x",kx).attr("y",ky).attr("width",14).attr("height",12).attr("fill",cFill[types[k]]).attr("stroke","#333").attr("stroke-width",0.6);
    g.append("rect").attr("x",kx+2.5).attr("y",ky+2.5).attr("width",9).attr("height",7).attr("fill",cBox[types[k]]).attr("stroke","#333").attr("stroke-width",0.5);
    hl(g,kx+2.5,kx+11.5,ky+6,"#333",0.6);
    vl(g,kx+7,ky,ky+2.5,"#333",0.5); vl(g,kx+7,ky+9.5,ky+12,"#333",0.5);
    T(g,txtX[k],ky+10.5,s,11,{fill:"#000"});
  });
}

// ---------------- PANEL D ----------------
{
  const g = svg.append("g");
  const x = d3.scaleLinear().domain([0,100]).range([316,538]);
  const y = d3.scaleLinear().domain([0,7.5]).range([448,296]);
  const ar = d3.area().curve(d3.curveMonotoneX).x(d=>x(d[0])).y0(y(0)).y1(d=>y(d[1]));
  g.append("path").attr("d",ar(densRBEM5)).attr("fill","#55D855").attr("fill-opacity",0.75).attr("stroke","#2EC22E").attr("stroke-width",0.9);
  g.append("path").attr("d",ar(densRBEM5p2)).attr("fill","#C63CC6").attr("fill-opacity",0.6).attr("stroke","#E020E0").attr("stroke-width",0.9);
  const ln = d3.line().curve(d3.curveMonotoneX).x(d=>x(d[0])).y(d=>y(d[1]));
  g.append("path").attr("d",ln(densRBEM5)).attr("fill","none").attr("stroke","#555").attr("stroke-width",0.6).attr("opacity",0.7);
  rugRBEM5p2.forEach(v=>vl(g,x(v),449.5,457,"#E03FE0",1.1));
  rugRBEM5.forEach(v=>vl(g,x(v),449.5,457,"#237A23",0.8));
  hl(g,x(3),x(99),448.5,"#E03FE0",0.8);
  g.append("line").attr("x1",313.5).attr("x2",313.5).attr("y1",240).attr("y2",458).attr("stroke","#000").attr("stroke-width",0.8);
  g.append("line").attr("x1",313.5).attr("x2",546).attr("y1",458).attr("y2",458).attr("stroke","#000").attr("stroke-width",0.8);
  const axl = g.append("g").attr("transform","translate(313.5,0)").call(d3.axisLeft(y).tickValues(dYTicks).tickFormat(d3.format(".1f")).tickSize(3).tickPadding(2));
  styleAxis(axl,10.5);
  const axb = g.append("g").attr("transform","translate(0,458)").call(d3.axisBottom(x).tickValues(dXTicks).tickSize(3).tickPadding(0.5));
  styleAxis(axb,10);
  T(g,435,480.5,"%ESB",11,{bold:true,anchor:"middle"});
  T(g,298,345,"Density",10.5,{bold:true,anchor:"middle",rot:-90});
  T(g,293,244,"D",12.5,{bold:true});
  dGroups.forEach((s,k)=>{
    const ky = 315+k*14;
    g.append("rect").attr("x",360).attr("y",ky).attr("width",12).attr("height",12)
      .attr("fill",k?"#DD3FDD":"#55D855").attr("fill-opacity",0.7).attr("stroke",k?"#E020E0":"#2EC22E").attr("stroke-width",0.9);
    T(g,375,ky+10,s,10.5,{fill:"#222"});
  });
  const colX=[427,485,542,600], W=48, rowStrip=[235,339], SH=14, PH=72;
  smTitles.forEach((t,k)=>{
    const col=k%4, row=Math.floor(k/4);
    const x0=colX[col], sTop=rowStrip[row], pTop=sTop+SH, pBot=pTop+PH;
    const n=smMed[k].length;
    const xs=d3.scaleLinear().domain([0.4,n+0.6]).range([x0,x0+W]);
    const ys=d3.scaleLinear().domain([0,100]).range([pTop+67,pTop+3.7]);
    g.append("rect").attr("x",x0).attr("y",pTop).attr("width",W).attr("height",PH).attr("fill","#fff");
    [12.5,37.5,62.5,87.5].forEach(v=>hl(g,x0,x0+W,ys(v),"#F4F4F4",0.5));
    smYTicks.forEach(v=>hl(g,x0,x0+W,ys(v),"#EBEBEB",0.7));
    d3.range(1,n+1).forEach(v=>vl(g,xs(v),pTop,pBot,"#EBEBEB",0.7));
    const fill = smGroup[k]==="rBEM5" ? "#44D444" : "#E03FE0";
    const bw = (W/(n+0.2))*0.62;
    smMed[k].forEach((m,j)=>{
      const cx=xs(j+1);
      vl(g,cx,ys(smHi[k][j]),ys(smQ3[k][j]),"#444",0.6);
      vl(g,cx,ys(smQ1[k][j]),ys(smLo[k][j]),"#444",0.6);
      g.append("rect").attr("x",cx-bw/2).attr("width",bw).attr("y",ys(smQ3[k][j])).attr("height",Math.max(1.2,ys(smQ1[k][j])-ys(smQ3[k][j])))
        .attr("fill",fill).attr("stroke","#333").attr("stroke-width",0.55);
      hl(g,cx-bw/2,cx+bw/2,ys(m),"#222",0.8);
    });
    g.append("rect").attr("x",x0).attr("y",pTop).attr("width",W).attr("height",PH).attr("fill","none").attr("stroke","#666").attr("stroke-width",0.7);
    g.append("rect").attr("x",x0).attr("y",sTop).attr("width",W).attr("height",SH).attr("fill","#D9D9D9").attr("stroke","#666").attr("stroke-width",0.7);
    T(g,x0+W/2,sTop+10.3,t,8,{anchor:"middle",fill:"#1A1A1A"});
    const ay=g.append("g").attr("transform",`translate(${x0},0)`).call(d3.axisLeft(ys).tickValues(smYTicks).tickSize(2).tickPadding(1.5).tickFormat(col===0?d3.format("d"):""));
    styleAxis(ay,6.8);
    const ax=g.append("g").attr("transform",`translate(0,${pBot})`).call(d3.axisBottom(xs).tickValues(d3.range(1,n+1)).tickSize(1.5).tickFormat(""));
    styleAxis(ax,5);
    smMed[k].forEach((m,j)=>{
      const xx=xs(j+1)+1, yy=pBot+3;
      T(g,xx,yy,smLabels[j],4.8,{anchor:"end",fill:TXT}).attr("transform",`rotate(-60,${xx},${yy})`).attr("dy","0.35em");
    });
    if(row===1) T(g,x0+W/2,445,"Position",9.5,{bold:true,anchor:"middle"});
    if(col===0) T(g,405,(pTop+pBot)/2-3,"%ESB",9.5,{bold:true,anchor:"middle",rot:-90});
  });
}
</script>
</body>
</html>
